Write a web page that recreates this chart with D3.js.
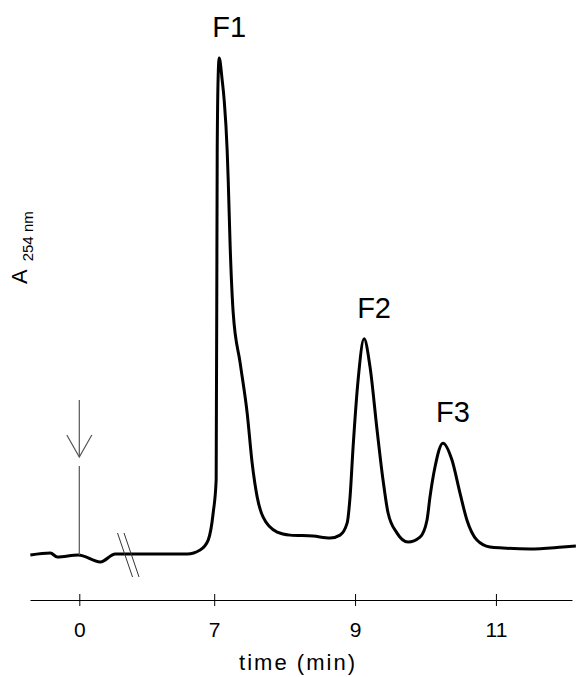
<!DOCTYPE html>
<html>
<head>
<meta charset="utf-8">
<script src="https://cdn.jsdelivr.net/npm/d3@7"></script>
<style>
  body { margin: 0; background: #fff; }
  svg text { font-family: Arial, "Liberation Sans", sans-serif; fill: #000; }
</style>
</head>
<body>
<svg class="chart" width="576" height="677"></svg>
<script>
// chromatogram trace, time in min, absorbance relative to F1
const timeMin = [-0.695, -0.411, -0.312, -0.014, 0.298, 0.511, 0.681,
  5.82, 6.617, 6.80, 6.915, 6.986, 7.028, 7.043, 7.057, 7.071,
  7.113, 7.142, 7.184, 7.199, 7.227, 7.270, 7.369, 7.468, 7.539, 7.610, 7.695, 7.894,
  8.078, 8.404, 8.645, 8.787, 8.887, 8.929, 8.972, 9.043, 9.128,
  9.213, 9.312, 9.397, 9.468, 9.596, 9.752, 9.922, 10.021, 10.064, 10.135, 10.248,
  10.376, 10.489, 10.589, 10.730, 10.915, 11.099, 11.482, 11.950, 12.135];
const absorb = [0, 0.004, -0.004, 0, -0.014, 0.002, 0.002,
  0.002, 0.002, 0.010, 0.030, 0.085, 0.151, 0.815, 0.966, 1.0,
  0.956, 0.915, 0.815, 0.755, 0.620, 0.487, 0.386, 0.286, 0.185, 0.117, 0.076, 0.046,
  0.040, 0.038, 0.034, 0.040, 0.064, 0.117, 0.217, 0.352, 0.435,
  0.378, 0.252, 0.151, 0.085, 0.044, 0.026, 0.036, 0.070, 0.117, 0.177, 0.225,
  0.191, 0.125, 0.070, 0.030, 0.016, 0.014, 0.012, 0.016, 0.018];

const peakNames = ["F1", "F2", "F3"];
const peakTimes = [7.071, 9.128, 10.248];

const tickValues = [0, 7, 9, 11];
const axisBreak = [0.72, 5.805];   // part of the time axis that is cut out
const timeRange = [-0.7, 12.08];

const width = 576, height = 677;
const left = 30, right = 572;
const axisY = 600;

// broken x scale: same minutes per pixel on both sides of the cut
const gap = axisBreak[1] - axisBreak[0];
const k = (right - left) / (timeRange[1] - timeRange[0] - gap);
const xBreak = left + (axisBreak[0] - timeRange[0]) * k;
const x = d3.scaleLinear()
  .domain([timeRange[0], axisBreak[0], axisBreak[1], timeRange[1]])
  .range([left, xBreak, xBreak, right]);

const y = d3.scaleLinear().domain([0, 1]).range([555, 58]);

const svg = d3.select(".chart");

const data = timeMin.map((t, i) => ({t: t, a: absorb[i]}));

// trace
svg.append("path")
  .datum(data)
  .attr("fill", "none")
  .attr("stroke", "#000")
  .attr("stroke-width", 3)
  .attr("stroke-linejoin", "round")
  .attr("d", d3.line().x(d => x(d.t)).y(d => y(d.a)).curve(d3.curveMonotoneX));

// break marks on the trace
svg.append("g")
  .selectAll("line")
  .data([-5, 1.5])
  .join("line")
  .attr("x1", d => xBreak + d - 7.5)
  .attr("x2", d => xBreak + d + 7.5)
  .attr("y1", y(0) - 22)
  .attr("y2", y(0) + 22)
  .attr("stroke", "#333")
  .attr("stroke-width", 1);

// injection arrow at t = 0
const ax = x(0);
svg.append("line")
  .attr("x1", ax).attr("x2", ax)
  .attr("y1", 400).attr("y2", 457)
  .attr("stroke", "#555").attr("stroke-width", 1.2);
svg.append("path")
  .attr("d", `M${ax - 12.5},435L${ax},457L${ax + 12.5},435`)
  .attr("fill", "none")
  .attr("stroke", "#555").attr("stroke-width", 1.2);
svg.append("line")
  .attr("x1", ax).attr("x2", ax)
  .attr("y1", 466).attr("y2", y(0))
  .attr("stroke", "#555").attr("stroke-width", 1.2);

// x axis
const xAxis = d3.axisBottom(x)
  .tickValues(tickValues)
  .tickSizeInner(0)
  .tickSizeOuter(0)
  .tickPadding(22)
  .tickFormat(d3.format("d"));

const gx = svg.append("g")
  .attr("transform", `translate(0,${axisY})`)
  .call(xAxis);
gx.select(".domain").attr("stroke", "#000").attr("stroke-width", 1);
gx.selectAll(".tick line")
  .attr("y1", -6).attr("y2", 6)
  .attr("stroke", "#000");
gx.selectAll(".tick text")
  .attr("font-size", 21)
  .attr("font-family", null);

svg.append("text")
  .attr("x", 297)
  .attr("y", 670)
  .attr("text-anchor", "middle")
  .attr("font-size", 22)
  .attr("textLength", 116)
  .attr("lengthAdjust", "spacing")
  .text("time (min)");

// y label, rotated
const yLabel = svg.append("text")
  .attr("transform", "translate(27,284) rotate(-90)")
  .attr("font-size", 22);
yLabel.append("tspan").text("A");
yLabel.append("tspan")
  .attr("dx", 8)
  .attr("dy", 6)
  .attr("font-size", 15)
  .text("254 nm");

// peak labels
svg.append("g")
  .selectAll("text")
  .data(peakNames)
  .join("text")
  .attr("x", (d, i) => x(peakTimes[i]) + 10)
  .attr("y", (d, i) => y(absorb[timeMin.indexOf(peakTimes[i])]) - 21)
  .attr("text-anchor", "middle")
  .attr("font-size", 29)
  .text(d => d);
</script>
</body>
</html>
